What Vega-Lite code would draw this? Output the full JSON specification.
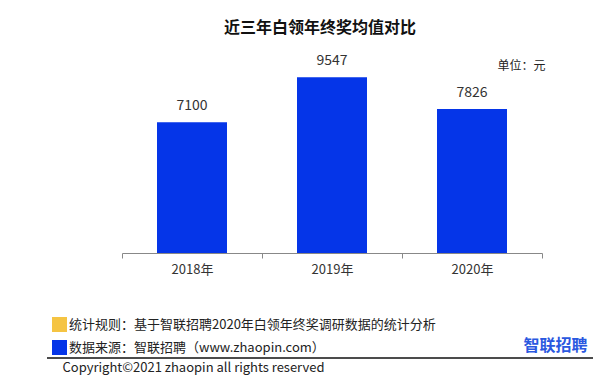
{
  "$schema": "https://vega.github.io/schema/vega-lite/v6.json",
  "autosize": {"type": "none"},
  "padding": {"left": 47, "top": 69, "right": 16, "bottom": 131},
  "width": 546,
  "height": 184,
  "background": "white",
  "title": {
    "text": "近三年白领年终奖均值对比",
    "fontSize": 16,
    "fontWeight": "bold",
    "color": "#111111",
    "anchor": "middle",
    "frame": "group",
    "offset": 18
  },
  "config": {
    "font": "Noto Sans CJK SC",
    "view": {"stroke": null}
  },
  "data": {
    "values": [
      {"年份": "2018年", "均值": 7100, "来源": "数据来源：智联招聘（www.zhaopin.com）"},
      {"年份": "2019年", "均值": 9547, "来源": "数据来源：智联招聘（www.zhaopin.com）"},
      {"年份": "2020年", "均值": 7826, "来源": "数据来源：智联招聘（www.zhaopin.com）"}
    ]
  },
  "resolve": {"scale": {"y": "independent"}},
  "layer": [
    {
      "mark": {"type": "bar", "width": {"band": 0.5}},
      "encoding": {
        "x": {
          "field": "年份",
          "type": "nominal",
          "sort": null,
          "scale": {"range": [75, 495], "paddingInner": 0, "paddingOuter": 0},
          "axis": {
            "labelAngle": 0,
            "tickBand": "extent",
            "domainColor": "#888888",
            "tickColor": "#888888",
            "tickSize": 5,
            "labelFontSize": 13,
            "labelColor": "#333333",
            "labelPadding": 5,
            "title": "Copyright©2021 zhaopin all rights reserved",
            "titleX": 15,
            "titleY": 114,
            "titleAlign": "left",
            "titleBaseline": "middle",
            "titleFontWeight": "normal",
            "titleFontSize": 13,
            "titleColor": "#222222",
            "titleAnchor": null
          }
        },
        "y": {
          "field": "均值",
          "type": "quantitative",
          "scale": {"domain": [0, 10000]},
          "axis": {
            "orient": "right",
            "labels": false,
            "ticks": false,
            "domain": false,
            "grid": false,
            "title": "单位：元",
            "titleAngle": 0,
            "titleX": -48,
            "titleY": -4,
            "titleAlign": "right",
            "titleBaseline": "middle",
            "titleFontWeight": "normal",
            "titleFontSize": 12,
            "titleColor": "#222222"
          }
        },
        "color": {
          "field": "来源",
          "type": "nominal",
          "scale": {
            "domain": ["统计规则：基于智联招聘2020年白领年终奖调研数据的统计分析", "数据来源：智联招聘（www.zhaopin.com）"],
            "range": ["#F5C443", "#0535E8"]
          },
          "legend": {
            "orient": "none",
            "legendX": 5,
            "legendY": 248,
            "title": null,
            "symbolType": "square",
            "symbolSize": 225,
            "symbolStrokeWidth": 0,
            "symbolOpacity": 1,
            "labelFontSize": 13,
            "labelColor": "#222222",
            "labelLimit": 600,
            "labelOffset": 2,
            "rowPadding": 8,
            "padding": 0
          }
        }
      }
    },
    {
      "mark": {"type": "text", "baseline": "alphabetic", "dy": -12, "fontSize": 14, "color": "#333333"},
      "encoding": {
        "x": {"field": "年份", "type": "nominal", "sort": null},
        "y": {
          "field": "均值",
          "type": "quantitative",
          "scale": {"domain": [0, 10000]},
          "axis": {
            "orient": "left",
            "labels": false,
            "ticks": false,
            "domain": false,
            "grid": false,
            "title": "智联招聘",
            "titleAngle": 0,
            "titleX": 508,
            "titleY": 276,
            "titleAlign": "center",
            "titleBaseline": "middle",
            "titleFontWeight": "bold",
            "titleFontSize": 16,
            "titleColor": "#2A58E0"
          }
        },
        "text": {"field": "均值", "type": "quantitative"}
      }
    },
    {
      "mark": {"type": "rule", "color": "#333333", "strokeWidth": 1},
      "encoding": {
        "y": {"datum": -5707, "scale": {"domain": [0, 10000]}, "axis": null}
      }
    }
  ]
}
